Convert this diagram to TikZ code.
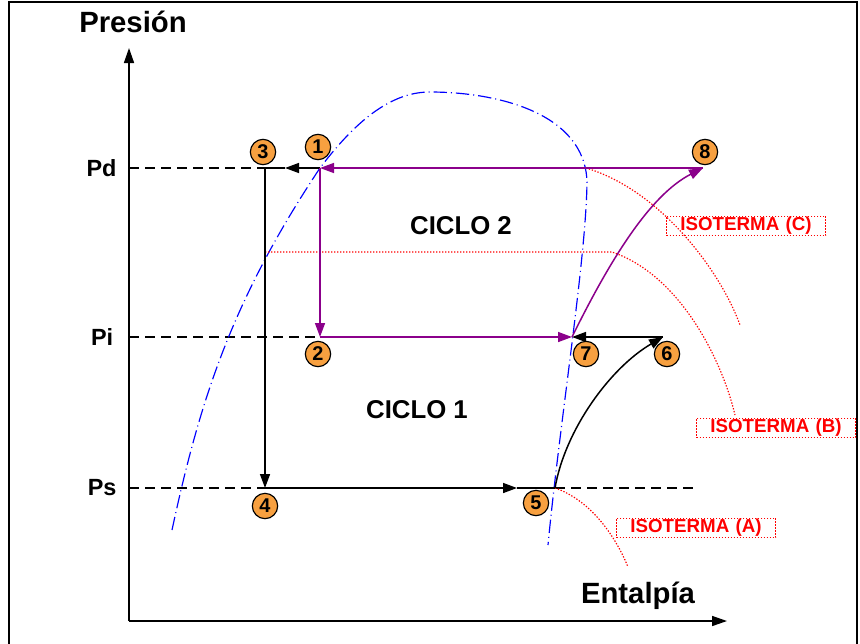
\documentclass[tikz,border=0pt]{standalone}
\usepackage{fontspec}
\setmainfont{Liberation Sans}
\usetikzlibrary{arrows.meta, positioning, calc}

\definecolor{ringorange}{HTML}{F7A040}
\definecolor{cycpurple}{HTML}{8B008B}

\begin{document}
\begin{tikzpicture}[x=0.3mm, y=-0.3mm,
    axis/.style={line width=0.45mm, -{Triangle[length=4.5mm, width=3mm]}},
    guide/.style={line width=0.4mm, dash pattern=on 3mm off 1.8mm},
    flow/.style={line width=0.45mm, -{Triangle[length=4.2mm, width=3mm]}},
    cyc/.style={flow, cycpurple},
    plain/.style={line width=0.45mm},
    dome/.style={blue, line width=0.35mm, dash pattern=on 4mm off 1.2mm on 0.3mm off 1.2mm},
    iso/.style={red, line width=0.35mm, dash pattern=on 0.4mm off 0.5mm},
    num/.style={circle, draw, line width=0.35mm, fill=ringorange, inner sep=0pt,
                minimum size=7.6mm, font=\fontsize{17}{17}\selectfont\bfseries},
    isolabel/.style={draw=red, line width=0.3mm, dash pattern=on 0.5mm off 0.4mm, text=red,
                     inner sep=1pt, text width=47mm, align=center,
                     font=\fontsize{16}{16}\selectfont\bfseries},
    press/.style={font=\fontsize{20}{20}\selectfont\bfseries},
    title/.style={font=\fontsize{25}{25}\selectfont\bfseries},
    cycle/.style={font=\fontsize{22}{22}\selectfont\bfseries}
]
    \useasboundingbox (0,0) rectangle (860,643);
    % frame
    \draw[line width=0.8mm] (9,645) -- (9,2) -- (857,2) -- (857,645);

    % axes
    \coordinate (origin) at (129,621);
    \coordinate (ytip) at (129,48);
    \coordinate (xtip) at (727,621);
    \draw[axis] (origin) -- (ytip);
    \draw[axis] (origin) -- (xtip);
    \node[title] (ylab) at (133,22) {Presión};
    \node[title] (xlab) at (638,596) {Entalpía};

    % state points
    \coordinate (p1) at (320,168);
    \coordinate (p2) at (320,337);
    \coordinate (p3) at (265,168);
    \coordinate (p4) at (265,488);
    \coordinate (p5) at (555,488);
    \coordinate (p6) at (663,337);
    \coordinate (p7) at (572,337);
    \coordinate (p8) at (703,168);
    \coordinate (m13) at (285,168);
    \coordinate (m45) at (517,488);
    \coordinate (yd) at (129,168);
    \coordinate (yi) at (129,337);
    \coordinate (ys) at (129,488);
    \coordinate (send) at (697,488);

    % pressure levels
    \node[press, left=2.5mm of yd] (pd) {Pd};
    \node[press, left=3.5mm of yi] (pi) {Pi};
    \node[press, left=2.5mm of ys] (ps) {Ps};
    \draw[guide] (yd) -- (p3);
    \draw[guide] (yi) -- (p2);
    \draw[guide] (ys) -- (p4);
    \draw[guide] (p5) -- (send);

    % saturation dome
    \draw[dome] (172,530) .. controls (200,400) and (232,300) .. (p1)
        .. controls (360,115) and (395,92) .. (430,92)
        .. controls (495,92) and (585,112) .. (587,182)
        .. controls (586,260) and (560,420) .. (548,545);

    % isotherms
    \draw[iso] (586,168) .. controls (660,190) and (720,270) .. (740,325);
    \draw[iso] (265,252) -- (612,252) .. controls (680,275) and (722,360) .. (735,415);
    \draw[iso] (p5) .. controls (590,500) and (615,535) .. (628,567);

    % cycle 1
    \draw[flow] (p1) -- (m13);
    \draw[plain] (m13) -- (p3);
    \draw[flow] (p3) -- (p4);
    \draw[flow] (p4) -- (m45);
    \draw[plain] (m45) -- (p5);
    \draw[flow] (p5) .. controls (565,430) and (610,368) .. (p6);
    \draw[flow] (p6) -- (p7);

    % cycle 2
    \draw[cyc] (p8) -- (p1);
    \draw[cyc] (p1) -- (p2);
    \draw[cyc] (p2) -- (p7);
    \draw[cyc] (p7) .. controls (610,260) and (650,195) .. (p8);

    % numbered points
    \node[num] (n1) at (318,147) {1};
    \node[num] (n2) at (318,354) {2};
    \node[num] (n3) at (263,152) {3};
    \node[num] (n4) at (265,506) {4};
    \node[num] (n5) at (536,503) {5};
    \node[num] (n6) at (667,354) {6};
    \node[num] (n7) at (586,354) {7};
    \node[num] (n8) at (705,152) {8};

    \node[cycle] (c2) at (461,226) {CICLO 2};
    \node[cycle] (c1) at (417,410) {CICLO 1};

    \node[isolabel] (isoc) at (746,226) {ISOTERMA (C)};
    \node[isolabel] (isob) at (776,428) {ISOTERMA (B)};
    \node[isolabel] (isoa) at (696,528) {ISOTERMA (A)};
\end{tikzpicture}
\end{document}
